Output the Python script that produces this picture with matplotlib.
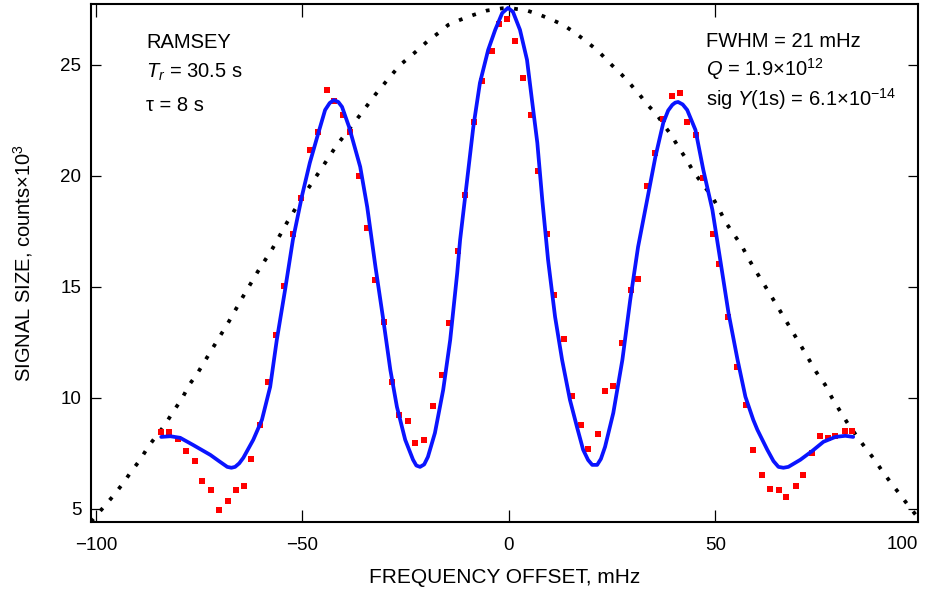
import matplotlib
matplotlib.use("Agg")
import matplotlib.pyplot as plt
import numpy as np

plt.rcParams['font.family'] = ['Liberation Sans', 'DejaVu Sans']
plt.rcParams['mathtext.fontset'] = 'custom'
plt.rcParams['mathtext.rm'] = 'Liberation Sans'
plt.rcParams['mathtext.it'] = 'Liberation Sans:italic'

# measured points (red squares), frequency offset in mHz, signal in 10^3 counts
freq = [-84.2, -82.3, -80.1, -78.2, -76.0, -74.3, -72.1, -70.2, -68.0, -66.1, -64.1, -62.4, -60.2,
        -58.3, -56.3, -54.4, -52.2, -50.3, -48.1, -46.2, -44.0, -42.3, -40.1, -38.4, -36.4, -34.4,
        -32.3, -30.2, -28.2, -26.6, -24.4, -22.8, -20.5, -18.4, -16.2, -14.5, -12.3, -10.6, -8.4,
        -6.5, -4.0, -2.3, -0.4, 1.5, 3.4, 5.4, 7.1, 9.3, 11.0, 13.4, 15.3, 17.5, 19.2, 21.6, 23.3,
        25.3, 27.5, 29.7, 31.3, 33.5, 35.5, 37.4, 39.6, 41.5, 43.2, 45.4, 47.1, 49.5, 50.9, 53.1,
        55.3, 57.5, 59.2, 61.4, 63.3, 65.5, 67.2, 69.6, 71.3, 73.5, 75.4, 77.4, 79.1, 81.5, 83.2]
signal = [8.47, 8.47, 8.15, 7.61, 7.16, 6.26, 5.86, 4.95, 5.36, 5.86, 6.04, 7.25, 8.78,
          10.72, 12.84, 15.05, 17.39, 19.01, 21.17, 21.98, 23.87, 23.38, 22.75, 21.98, 20.0, 17.66,
          15.32, 13.42, 10.72, 9.23, 8.96, 7.97, 8.11, 9.64, 11.04, 13.38, 16.62, 19.14, 22.43,
          24.28, 25.63, 26.85, 27.07, 26.08, 24.41, 22.75, 20.23, 17.39, 14.64, 12.66, 10.09, 8.78, 7.70, 8.38, 10.32,
          10.54, 12.48, 14.86, 15.36, 19.55, 21.04, 22.57, 23.60, 23.74, 22.43, 21.85, 19.91, 17.39, 16.04, 13.65,
          11.40, 9.68, 7.66, 6.53, 5.90, 5.86, 5.54, 6.04, 6.53, 7.52, 8.29, 8.20, 8.29, 8.51, 8.51]

# fitted Ramsey fringe (blue line)
fit_x = [-84.2, -82.0, -79.6, -76.5, -72.3, -70.2, -68.2, -67.2, -66.3, -65.3, -64.3, -61.9, -59.8,
         -57.8, -56.2, -54.2, -52.3, -50.1, -48.2, -46.4, -44.5, -43.4, -42.4, -41.3, -40.4, -38.7,
         -36.0, -34.3, -32.3, -30.4, -28.7, -27.1, -25.1, -23.2, -22.4, -21.5, -20.5, -19.6, -17.9,
         -15.9, -14.2, -12.5, -11.8, -10.1, -8.6, -7.0, -5.0, -3.3, -1.6, -0.2, 1.0, 2.7, 4.4, 5.6,
         6.9, 8.1, 9.5, 11.2, 12.9, 14.8, 16.5, 18.0, 19.2, 20.2, 21.4, 22.3, 23.3, 25.3, 27.5, 29.4,
         31.3, 33.5, 35.5, 37.4, 38.6, 39.6, 40.3, 41.0, 42.1, 43.2, 45.2, 47.1, 49.3, 51.2, 53.2,
         55.4, 57.3, 59.2, 60.2, 62.6, 64.1, 65.3, 66.5, 67.7, 70.6, 73.5, 76.2, 79.1, 81.5, 83.4]
fit_y = [8.24, 8.27, 8.20, 7.88, 7.43, 7.15, 6.89, 6.85, 6.89, 7.05, 7.30, 8.11, 9.01,
         10.50, 12.61, 14.86, 17.12, 19.10, 20.59, 21.76, 22.97, 23.28, 23.42, 23.33, 23.11, 22.21,
         20.41, 18.60, 15.90, 13.51, 11.26, 9.59, 8.11, 7.21, 6.95, 6.89, 7.00, 7.34, 8.42,
         10.36, 12.61, 15.63, 17.12, 19.82, 22.21, 24.19, 25.68, 26.58, 27.34, 27.57, 27.39, 26.58, 25.23, 23.42,
         21.49, 18.92, 16.22, 13.65, 11.71, 9.91, 8.69, 7.66, 7.20, 6.98, 6.98, 7.25, 7.79, 9.32, 11.71, 14.41,
         16.80, 18.92, 20.86, 22.39, 22.95, 23.20, 23.30, 23.33, 23.22, 22.97, 22.07, 20.27, 18.47, 16.22, 13.83,
         11.71, 10.05, 9.01, 8.56, 7.66, 7.15, 6.89, 6.85, 6.89, 7.21, 7.61, 8.02, 8.24, 8.29, 8.24]

# single-pulse envelope (black dotted line)
env_x = [-101.2, -100.0, -97.8, -95.6, -93.4, -91.6, -89.3, -87.2, -83.3, -81.3, -79.2, -77.4, -75.4,
         -71.6, -67.8, -64.3, -60.8, -57.2, -53.6, -49.9, -45.9, -41.8, -36.0, -32.4, -28.4, -26.3,
         -22.5, -19.5, -16.6, -14.7, -11.8, -8.6, -5.3, -1.6, 0.0, 4.4, 7.6, 10.5, 13.2, 15.6, 18.0,
         21.5, 24.9, 27.4, 29.6, 31.7, 33.6, 35.9, 37.5, 39.3, 41.1, 43.0, 44.7, 46.8, 49.2, 50.8,
         52.4, 54.3, 56.5, 58.1, 59.9, 63.5, 67.2, 70.9, 74.5, 76.6, 78.3, 80.3, 82.3, 86.1, 88.6,
         90.5, 92.6, 94.8, 96.8, 98.9, 99.5]
env_y = [4.42, 4.68, 5.15, 5.63, 6.16, 6.64, 7.21, 7.84, 8.78, 9.38, 9.95, 10.59, 11.11,
         12.28, 13.44, 14.59, 15.69, 16.74, 17.94, 19.07, 20.19, 21.35, 22.75, 23.65, 24.55, 25.0,
         25.6, 26.1, 26.5, 26.8, 27.03, 27.25, 27.45, 27.55, 27.57, 27.45, 27.25, 27.03, 26.8, 26.5, 26.17,
         25.65, 25.0, 24.55, 24.1, 23.65, 23.2, 22.75, 22.3, 21.85, 21.29, 20.75, 20.19, 19.67, 19.07, 18.55,
         17.94, 17.42, 16.82, 16.25, 15.69, 14.6, 13.45, 12.3, 11.15, 10.59, 9.99, 9.38, 8.78, 7.81, 7.21,
         6.68, 6.16, 5.63, 5.14, 4.65, 4.45]

xticks = [-100, -50, 0, 50]
xticklabels = ['\u2212100', '\u221250', '0', '50']
yticks = [5, 10, 15, 20, 25]

fig = plt.figure(figsize=(9.25, 5.98), dpi=100)
ax = fig.add_axes([91 / 925, 1 - 521.7 / 598, (918 - 91) / 925, (521.7 - 4.1) / 598])

ax.plot(env_x, env_y, color='black', lw=2.7, linestyle=(0, (1.0, 2.8)), zorder=2)
ax.plot(freq, signal, 's', color='#ff0000', ms=4.4, mew=0, zorder=3)
ax.plot(fit_x, fit_y, color='#0a14ff', lw=2.7, zorder=4,
        solid_joinstyle='round', solid_capstyle='round')

ax.set_xlim(-101.2, 99.1)
ax.set_ylim(4.42, 27.74)
ax.set_xticks(xticks)
ax.set_xticklabels(xticklabels)
ax.set_yticks(yticks)
ax.set_yticklabels([str(v) for v in yticks])
ax.tick_params(axis='x', direction='in', length=9, width=0.9, pad=11, labelsize=13.5,
               top=True)
ax.tick_params(axis='y', direction='in', length=7.5, width=0.9, pad=7, labelsize=13.5,
               right=True)
for s in ax.spines.values():
    s.set_linewidth(1.5)

# the 100 label sits at the right edge of the frame
ax.text(1.0, -0.0285, '100', transform=ax.transAxes, ha='right', va='top', fontsize=13.5)

ax.set_xlabel('FREQUENCY OFFSET, mHz', fontsize=15, labelpad=10)
ax.set_ylabel('SIGNAL SIZE, counts\u00d7$10^{3}$', fontsize=14.5, labelpad=18)

fs = 14.5
fig.text(146 / 925, 1 - 48.3 / 598, 'RAMSEY', fontsize=fs, va='baseline')
fig.text(146 / 925, 1 - 77.3 / 598, '$T_r$ = 30.5 s', fontsize=fs, va='baseline')
fig.text(146 / 925, 1 - 110.7 / 598, '\u03c4 = 8 s', fontsize=fs, va='baseline')
fig.text(706 / 925, 1 - 47.3 / 598, 'FWHM = 21 mHz', fontsize=fs, va='baseline')
fig.text(706 / 925, 1 - 76 / 598, '$Q$ = 1.9\u00d7$10^{12}$', fontsize=fs, va='baseline')
fig.text(706 / 925, 1 - 106 / 598, 'sig $Y$(1s) = 6.1\u00d7$10^{-14}$', fontsize=fs, va='baseline')

fig.savefig('out.png', dpi=100)
